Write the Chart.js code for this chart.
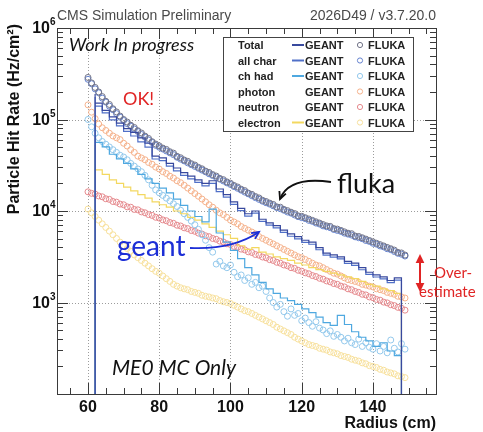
<!DOCTYPE html>
<html>
<head>
<meta charset="utf-8">
<script src="https://cdn.jsdelivr.net/npm/chart.js@4"></script>
<style>
html, body { margin: 0; padding: 0; background: #fff; }
</style>
</head>
<body>
<canvas id="hitRate" width="483" height="432"></canvas>
<script>
// FLUKA points, one per cm
var flukaR = [60,61,62,63,64,65,66,67,68,69,70,71,72,73,74,75,76,77,78,79,80,81,82,83,84,85,86,87,88,89,
  90,91,92,93,94,95,96,97,98,99,100,101,102,103,104,105,106,107,108,109,110,111,112,113,114,115,116,117,118,119,
  120,121,122,123,124,125,126,127,128,129,130,131,132,133,134,135,136,137,138,139,140,141,142,143,144,145,146,147,148,149];

var totalFluka = [288000,251000,224000,200000,178000,158000,146000,131000,121000,109000,
  100000,93800,86500,81800,75400,71200,65800,62100,57200,53900,
  51500,48700,47100,44400,42900,39600,38200,36100,34900,32900,
  31800,30000,28900,27300,26400,25000,24100,22700,22000,20800,
  20100,19000,18300,17300,16700,15700,15200,14400,13900,13100,
  12700,12200,11800,11100,11000,10400,10100,9700,9380,8850,
  8750,8450,8180,7900,7620,7380,7110,6880,6790,6430,
  6340,6130,5920,5720,5650,5330,5270,5100,4930,4760,
  4600,4440,4290,4150,4000,3870,3740,3530,3480,3300];

var allCharFluka = [275000,246000,216000,196000,171000,155000,140000,128000,116000,106000,
  97500,90200,84600,78700,73900,68500,64200,59700,56100,52200,
  49800,47600,45300,43200,41300,38700,36900,35300,33600,32100,
  30700,29300,28000,26800,25500,24400,23300,22300,21300,20300,
  19500,18500,17700,16900,16100,15400,14700,14000,13400,12800,
  12300,11900,11400,10900,10600,10200,9750,9480,9060,8680,
  8460,8260,7900,7710,7380,7200,6880,6720,6570,6280,
  6130,5990,5730,5590,5460,5220,5100,4980,4760,4650,
  4440,4340,4150,4050,3870,3780,3610,3450,3370,3220];

var chHadFluka = [100000,83200,70800,63100,57500,53700,50100,46800,43700,40700,
  38900,36300,33100,30900,28800,26900,24500,21900,19100,17000,
  15800,14800,13800,12900,12000,11200,10200,9330,8510,7760,
  7080,6310,5500,4790,3980,3550,2630,2820,2510,2400,
  2570,2140,1910,2000,1740,1860,1580,1660,1450,1510,
  1320,1120,1000,891,955,794,708,851,724,759,
  631,676,603,550,617,525,501,457,490,427,
  447,417,380,407,363,347,398,331,363,324,
  309,355,295,331,282,389,316,288,355,309];

var photonFluka = [144500,120200,102300,89100,81300,75900,70800,66100,63100,60300,
  55000,51300,46800,43700,39800,38000,36300,33900,32400,30200,
  28800,26900,25700,24000,22900,21400,20400,19100,17800,16600,
  15500,14500,13500,12600,11700,11000,10200,9550,9120,8510,
  7940,7590,7240,6760,6460,6170,5890,5620,5250,5010,
  4790,4570,4370,4170,3980,3800,3630,3470,3310,3160,
  3090,2950,2820,2690,2570,2510,2400,2290,2190,2090,
  2040,1950,1860,1780,1740,1700,1660,1580,1550,1510,
  1480,1410,1380,1350,1290,1260,1230,1170,1150,1120];

var neutronFluka = [16200,15600,15300,14600,14300,13600,13400,12700,12500,11900,
  11700,11100,11000,10400,10300,9780,9560,9140,8950,8540,
  8370,8000,7830,7480,7330,6990,6860,6550,6420,6120,
  6000,5730,5610,5360,5240,5010,4910,4690,4590,4380,
  4300,4100,4020,3830,3760,3580,3520,3350,3290,3140,
  3080,2940,2880,2750,2690,2570,2520,2400,2360,2250,
  2200,2110,2060,1970,1920,1840,1800,1720,1680,1610,
  1580,1510,1480,1410,1380,1320,1290,1230,1210,1150,
  1130,1080,1060,1010,990,945,925,885,865,825];

var electronFluka = [10500,9550,8710,7940,7240,6610,6030,5500,5010,4570,
  4170,3890,3630,3310,3090,2880,2690,2510,2340,2190,
  2090,1950,1820,1700,1580,1510,1450,1410,1380,1320,
  1290,1260,1200,1170,1150,1120,1100,1050,1020,1000,
  977,933,891,851,813,794,759,724,692,661,
  631,603,575,537,513,490,468,447,417,398,
  380,363,347,339,331,316,309,302,288,282,
  275,263,257,251,240,234,229,219,214,204,
  200,195,186,182,174,170,166,158,155,151];

// GEANT histograms, 2 cm bins (left edges + last right edge)
var geantEdges = [62,64,66,68,70,72,74,76,78,80,82,84,86,88,90,92,94,96,98,100,102,104,106,108,
  110,112,114,116,118,120,122,124,126,128,130,132,134,136,138,140,142,144,146,148,150];

var totalGeant = [190000,151000,126000,107000,91200,79400,72400,63100,55000,39800,38000,33100,29500,26300,
  24000,21900,20000,21400,17400,15100,12600,10700,9330,10000,8130,7410,6920,6170,5620,5250,
  4790,4570,3980,3470,3310,3160,2820,2690,2400,2140,2000,1910,1740,1860];

var allCharGeant = [176000,140000,118000,99000,85000,74000,66000,57000,50000,37000,35500,31000,27500,24500,
  22500,20500,18800,20000,16300,14200,11800,10100,8800,9500,7700,7000,6550,5850,5300,4950,
  4530,4330,3770,3290,3140,3000,2680,2550,2280,2030,1900,1810,1650,1760];

var chHadGeant = [91200,56200,50100,41700,37200,33100,28800,25100,22400,20000,17800,15800,13500,11500,
  10000,8710,7590,10500,5750,4570,3720,3020,2400,2000,1660,1410,1260,1120,1050,955,
  851,776,692,603,562,724,575,479,417,380,331,363,295,263];

var electronGeant = [52500,28200,25100,21900,20000,18200,16600,15100,13800,12600,11700,11000,10000,9330,
  8510,7940,7240,6610,6030,5500,5010,4170,3800,3980,3550,3390,3160,3020,2880,2690,
  2570,2400,2290,2190,2090,2000,1910,1820,1700,1580,1510,1410,1350,1260];

var emptyBin = 1; // empty bins go to the bottom of the log axis

var xTicks = [60, 80, 100, 120, 140];
var xTickLabels = ['60', '80', '100', '120', '140'];
var yTicks = [1e3, 1e4, 1e5, 1e6];
var yTickExp = ['3', '4', '5', '6'];

var legendNames = ['Total', 'all char', 'ch had', 'photon', 'neutron', 'electron'];

var col = {
  totalLine: '#38499e', allCharLine: '#5070c8', chHadLine: '#4ea8e0', electronLine: '#f3d860',
  total: '#727488', allChar: '#6684d0', chHad: '#94c9ec', photon: '#f5b28c', neutron: '#e5898d', electron: '#f7e09c'
};

function flukaPoints(vals) {
  return flukaR.map(function (r, i) { return { x: r, y: vals[i] }; });
}

function geantSteps(vals) {
  var pts = [{ x: geantEdges[0], y: emptyBin }];
  vals.forEach(function (v, i) { pts.push({ x: geantEdges[i], y: v }); });
  pts.push({ x: geantEdges[geantEdges.length - 1], y: emptyBin });
  return pts;
}

function flukaSet(label, vals, color, order) {
  return {
    label: label, data: flukaPoints(vals), showLine: false, pointStyle: 'circle',
    pointRadius: 3, pointBorderWidth: 1, pointBorderColor: color,
    pointBackgroundColor: 'rgba(0,0,0,0)', order: order, clip: 0
  };
}

function geantSet(label, vals, color, order) {
  return {
    label: label, data: geantSteps(vals), stepped: 'after', borderColor: color,
    borderWidth: 1.2, pointRadius: 0, fill: false, order: order, clip: 0
  };
}

function arrowHead(ctx, x, y, ang, len, open) {
  ctx.beginPath();
  ctx.moveTo(x - len * Math.cos(ang - 0.45), y - len * Math.sin(ang - 0.45));
  ctx.lineTo(x, y);
  ctx.lineTo(x - len * Math.cos(ang + 0.45), y - len * Math.sin(ang + 0.45));
  if (open) { ctx.stroke(); } else { ctx.closePath(); ctx.fill(); }
}

var rootFrame = {
  id: 'rootFrame',
  beforeDatasetsDraw: function (chart) {
    var ctx = chart.ctx, a = chart.chartArea, x = chart.scales.x, y = chart.scales.y;
    ctx.save();
    ctx.strokeStyle = '#9c9c9c';
    ctx.lineWidth = 1;
    ctx.setLineDash([1, 2]);
    xTicks.forEach(function (v) {
      var px = Math.round(x.getPixelForValue(v)) + 0.5;
      ctx.beginPath(); ctx.moveTo(px, a.top); ctx.lineTo(px, a.bottom); ctx.stroke();
    });
    yTicks.forEach(function (v) {
      var py = Math.round(y.getPixelForValue(v)) + 0.5;
      if (py <= a.top + 1) return;
      ctx.beginPath(); ctx.moveTo(a.left, py); ctx.lineTo(a.right, py); ctx.stroke();
    });
    ctx.restore();
  },
  afterDatasetsDraw: function (chart) {
    var ctx = chart.ctx, a = chart.chartArea, x = chart.scales.x, y = chart.scales.y;
    ctx.save();
    ctx.strokeStyle = '#3a3a3a';
    ctx.lineWidth = 1;
    ctx.strokeRect(Math.round(a.left) + 0.5, Math.round(a.top) + 0.5,
      Math.round(a.right - a.left), Math.round(a.bottom - a.top));

    // x ticks, inward on bottom and top
    for (var t = 55; t <= 155; t += 5) {
      var px = Math.round(x.getPixelForValue(t)) + 0.5;
      var len = (t % 20 === 0) ? 11 : 6;
      ctx.beginPath();
      ctx.moveTo(px, a.bottom); ctx.lineTo(px, a.bottom - len);
      ctx.moveTo(px, a.top); ctx.lineTo(px, a.top + len);
      ctx.stroke();
    }
    // y ticks, inward on left and right
    for (var d = 100; d < 1e6; d *= 10) {
      for (var m = 1; m <= 9; m++) {
        var v = d * m;
        var py = Math.round(y.getPixelForValue(v)) + 0.5;
        var l = (m === 1) ? 11 : 6;
        ctx.beginPath();
        ctx.moveTo(a.left, py); ctx.lineTo(a.left + l, py);
        ctx.moveTo(a.right, py); ctx.lineTo(a.right - l, py);
        ctx.stroke();
      }
    }

    // tick labels
    ctx.fillStyle = '#111';
    ctx.font = 'bold 16px "Liberation Sans", Arial, sans-serif';
    ctx.textAlign = 'center';
    ctx.textBaseline = 'alphabetic';
    xTicks.forEach(function (v, i) {
      ctx.fillText(xTickLabels[i], x.getPixelForValue(v), 412);
    });
    yTicks.forEach(function (v, i) {
      var py = y.getPixelForValue(v);
      ctx.font = 'bold 16px "Liberation Sans", Arial, sans-serif';
      ctx.textAlign = 'right';
      ctx.fillText('10', 50, py + 5);
      ctx.font = 'bold 10px "Liberation Sans", Arial, sans-serif';
      ctx.textAlign = 'left';
      ctx.fillText(yTickExp[i], 50, py - 3);
    });

    // axis titles
    ctx.font = 'bold 16px "Liberation Sans", Arial, sans-serif';
    ctx.textAlign = 'right';
    ctx.fillText('Radius (cm)', a.right, 428);
    ctx.save();
    ctx.translate(19, 24);
    ctx.rotate(-Math.PI / 2);
    ctx.textAlign = 'right';
    ctx.fillText('Particle Hit Rate (Hz/cm\u00b2)', 0, 0);
    ctx.restore();

    // header
    ctx.fillStyle = '#4a4a4a';
    ctx.font = '14px "Liberation Sans", Arial, sans-serif';
    ctx.textAlign = 'left';
    ctx.fillText('CMS Simulation Preliminary', 57, 20);
    ctx.textAlign = 'right';
    ctx.fillText('2026D49 / v3.7.20.0', a.right, 20);

    // legend box
    var lx = 223, ly = 37, lw = 190, lh = 94;
    ctx.fillStyle = '#fff';
    ctx.fillRect(lx, ly, lw, lh);
    ctx.strokeStyle = '#444';
    ctx.strokeRect(lx + 0.5, ly + 0.5, lw, lh);
    var lineCols = [col.totalLine, col.allCharLine, col.chHadLine, null, null, col.electronLine];
    var dotCols = [col.total, col.allChar, col.chHad, col.photon, col.neutron, col.electron];
    ctx.font = 'bold 11px "Liberation Sans", Arial, sans-serif';
    legendNames.forEach(function (name, i) {
      var cy = 45 + i * 15.5;
      ctx.fillStyle = '#222';
      ctx.textAlign = 'left';
      ctx.fillText(name, 238, cy + 4);
      ctx.fillText('GEANT', 305, cy + 4);
      ctx.fillText('FLUKA', 368, cy + 4);
      if (lineCols[i]) {
        ctx.strokeStyle = lineCols[i];
        ctx.lineWidth = 2;
        ctx.beginPath(); ctx.moveTo(292, cy); ctx.lineTo(304, cy); ctx.stroke();
      }
      ctx.strokeStyle = dotCols[i];
      ctx.lineWidth = 1;
      ctx.beginPath(); ctx.arc(360, cy, 2.6, 0, Math.PI * 2); ctx.stroke();
    });

    // annotations
    ctx.fillStyle = '#111';
    ctx.textAlign = 'left';
    ctx.font = 'italic 18px Lato, "Open Sans", sans-serif';
    ctx.fillText('Work In progress', 69, 51);
    ctx.font = 'italic 21px Lato, "Open Sans", sans-serif';
    ctx.fillText('ME0 MC Only', 112, 375);
    ctx.fillStyle = '#e02424';
    ctx.font = '18px Lato, "Open Sans", sans-serif';
    ctx.fillText('OK!', 123, 105);
    ctx.fillStyle = '#111';
    ctx.font = '27px Lato, "Open Sans", sans-serif';
    ctx.fillText('fluka', 337, 193);
    ctx.fillStyle = '#1c2ed6';
    ctx.font = '28px Lato, "Open Sans", sans-serif';
    ctx.fillText('geant', 117, 256);
    ctx.fillStyle = '#e02424';
    ctx.font = '15px Lato, "Open Sans", sans-serif';
    ctx.fillText('Over-', 434, 278);
    ctx.fillText('estimate', 419, 297);

    // fluka arrow
    ctx.strokeStyle = '#111';
    ctx.lineWidth = 1.8;
    ctx.beginPath();
    ctx.moveTo(331, 182);
    ctx.quadraticCurveTo(289, 176, 280, 199);
    ctx.stroke();
    arrowHead(ctx, 280, 199, Math.atan2(199 - 176, 280 - 289), 8, true);

    // geant arrow
    ctx.strokeStyle = '#1c2ed6';
    ctx.beginPath();
    ctx.moveTo(190, 248);
    ctx.quadraticCurveTo(232, 250, 259, 232);
    ctx.stroke();
    arrowHead(ctx, 259, 232, Math.atan2(232 - 250, 259 - 232), 8, true);

    // over-estimate double arrow
    ctx.strokeStyle = '#e02424';
    ctx.fillStyle = '#e02424';
    ctx.lineWidth = 2;
    ctx.beginPath(); ctx.moveTo(420, 260); ctx.lineTo(420, 286); ctx.stroke();
    arrowHead(ctx, 420, 254, -Math.PI / 2, 10, false);
    arrowHead(ctx, 420, 292, Math.PI / 2, 10, false);
    ctx.restore();
  }
};

new Chart(document.getElementById('hitRate').getContext('2d'), {
  type: 'line',
  data: {
    datasets: [
      geantSet('Total GEANT', totalGeant, col.totalLine, 0),
      geantSet('all char GEANT', allCharGeant, col.allCharLine, 1),
      geantSet('ch had GEANT', chHadGeant, col.chHadLine, 2),
      geantSet('electron GEANT', electronGeant, col.electronLine, 3),
      flukaSet('Total FLUKA', totalFluka, col.total, 4),
      flukaSet('all char FLUKA', allCharFluka, col.allChar, 5),
      flukaSet('ch had FLUKA', chHadFluka, col.chHad, 6),
      flukaSet('photon FLUKA', photonFluka, col.photon, 7),
      flukaSet('neutron FLUKA', neutronFluka, col.neutron, 8),
      flukaSet('electron FLUKA', electronFluka, col.electron, 9)
    ]
  },
  options: {
    responsive: false,
    animation: false,
    layout: { padding: { left: 57, top: 28, right: 47, bottom: 38 } },
    plugins: { legend: { display: false }, tooltip: { enabled: false } },
    scales: {
      x: { type: 'linear', min: 51.3, max: 157.7, display: false },
      y: { type: 'logarithmic', min: 100, max: 1e6, display: false }
    }
  },
  plugins: [rootFrame]
});
</script>
</body>
</html>
